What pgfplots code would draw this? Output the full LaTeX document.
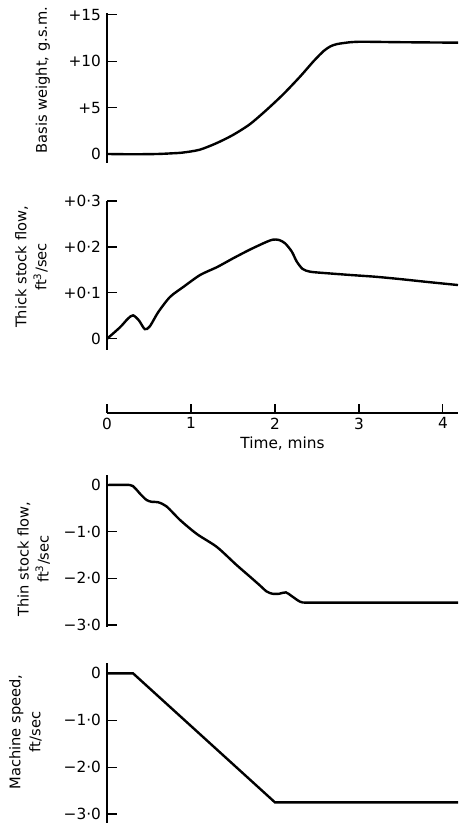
\documentclass[border=0pt]{standalone}
\usepackage{fontspec}
\setmainfont{DejaVu Sans}
\usepackage{pgfplots}
\pgfplotsset{compat=1.18}

% 1 px of the reference = 0.75pt
\pgfplotsset{
  panel/.style={
    scale only axis,
    width=263.25pt,
    xmin=0, xmax=4.18,
    axis x line=none,
    axis y line=left,
    axis line style={-, line width=1.3pt},
    tick align=inside,
    major tick length=7.5pt,
    tick style={line width=0.9pt, black},
    yticklabel style={font=\fontsize{11.5}{13}\selectfont, xshift=-1pt},
    ylabel style={font=\fontsize{11}{15}\selectfont, align=center, anchor=south, inner sep=0pt},
    clip=false,
  },
  curve/.style={black, line width=1.8pt, smooth, tension=0.45},
}

\begin{document}
\begin{tikzpicture}
\useasboundingbox (0,0) rectangle (343.5pt,617.25pt);

% Basis weight
\begin{axis}[panel, at={(80.25pt,495pt)}, anchor=south west,
  height=112.5pt, ymin=-0.97, ymax=15.2,
  ytick={0,5,10,15}, yticklabels={0,+5,+10,+15},
  ylabel={Basis weight, g.s.m.},
  ylabel style={at={(axis description cs:-0.162,0.553)}}]
\addplot[curve] coordinates {
(0,0) (0.3,-0.03) (0.6,0) (0.77,0.07) (0.9,0.15) (1.1,0.45) (1.3,1.15)
(1.5,2.05) (1.7,3.2) (1.9,4.75) (2.1,6.45) (2.3,8.35) (2.46,10.0)
(2.58,11.1) (2.66,11.6) (2.74,11.85) (2.9,12.05) (3.05,12.1) (3.5,12.05)
(4.18,12.0)};
\end{axis}

% Thick stock flow
\begin{axis}[panel, at={(80.25pt,354.75pt)}, anchor=south west,
  height=111.75pt, ymin=-0.0244, ymax=0.3,
  ytick={0,0.1,0.2,0.3}, yticklabels={0,+0·1,+0·2,+0·3},
  ylabel={Thick stock flow,\\ft\textsuperscript{3}/sec},
  ylabel style={at={(axis description cs:-0.168,0.557)}}]
\addplot[curve] coordinates {
(0,0) (0.155,0.025) (0.25,0.044) (0.31,0.051) (0.38,0.040) (0.45,0.021)
(0.51,0.027) (0.61,0.058) (0.75,0.091) (0.91,0.113) (1.11,0.139)
(1.31,0.156) (1.5,0.175) (1.7,0.194) (1.9,0.211) (1.98,0.216) (2.05,0.215)
(2.12,0.208) (2.2,0.19) (2.26,0.168) (2.33,0.152) (2.42,0.146) (2.6,0.143)
(2.89,0.139) (3.2,0.135) (3.49,0.130) (3.8,0.124) (4.18,0.117)};
\end{axis}

% Time axis
\begin{axis}[scale only axis, width=263.25pt, height=10pt,
  at={(80.25pt,307.5pt)}, anchor=south west,
  xmin=0, xmax=4.18, ymin=0, ymax=1,
  axis y line=none, axis x line=bottom,
  axis line style={-, line width=1.1pt},
  tick align=inside, major tick length=7pt,
  tick style={line width=0.9pt, black},
  xtick={0,1,2,3,4}, xticklabels={0,1,2,3,4},
  xticklabel style={font=\fontsize{11.5}{13}\selectfont},
  xlabel={Time, mins},
  xlabel style={font=\fontsize{11.5}{13}\selectfont, yshift=1pt}]
\addplot[draw=none] coordinates {(0,0)};
\end{axis}

% Thin stock flow
\begin{axis}[panel, at={(80.25pt,147.2pt)}, anchor=south west,
  height=113.8pt, ymin=-3.036, ymax=0.214,
  ytick={0,-1,-2,-3}, yticklabels={0,−1·0,−2·0,−3·0},
  ylabel={Thin stock flow,\\ft\textsuperscript{3}/sec},
  ylabel style={at={(axis description cs:-0.162,0.446)}}]
\addplot[curve] coordinates {
(0,0) (0.27,0) (0.33,-0.06) (0.4,-0.2) (0.47,-0.32) (0.53,-0.36)
(0.61,-0.37) (0.71,-0.46) (0.87,-0.75) (1.07,-1.05) (1.31,-1.33)
(1.54,-1.71) (1.70,-1.96) (1.82,-2.15) (1.9,-2.28) (1.97,-2.33)
(2.05,-2.33) (2.13,-2.30) (2.2,-2.38) (2.3,-2.50) (2.4,-2.52) (3.0,-2.52)
(4.18,-2.52)};
\end{axis}

% Machine speed
\begin{axis}[panel, at={(80.25pt,0pt)}, anchor=south west,
  height=120pt, ymin=-3.19, ymax=0.22,
  ytick={0,-1,-2,-3}, yticklabels={0,−1·0,−2·0,−3·0},
  ylabel={Machine speed,\\ft/sec},
  ylabel style={at={(axis description cs:-0.185,0.569)}}]
\addplot[black, line width=1.8pt] coordinates {
(0,0) (0.31,0) (2.0,-2.75) (4.18,-2.75)};
\end{axis}
\end{tikzpicture}
\end{document}
